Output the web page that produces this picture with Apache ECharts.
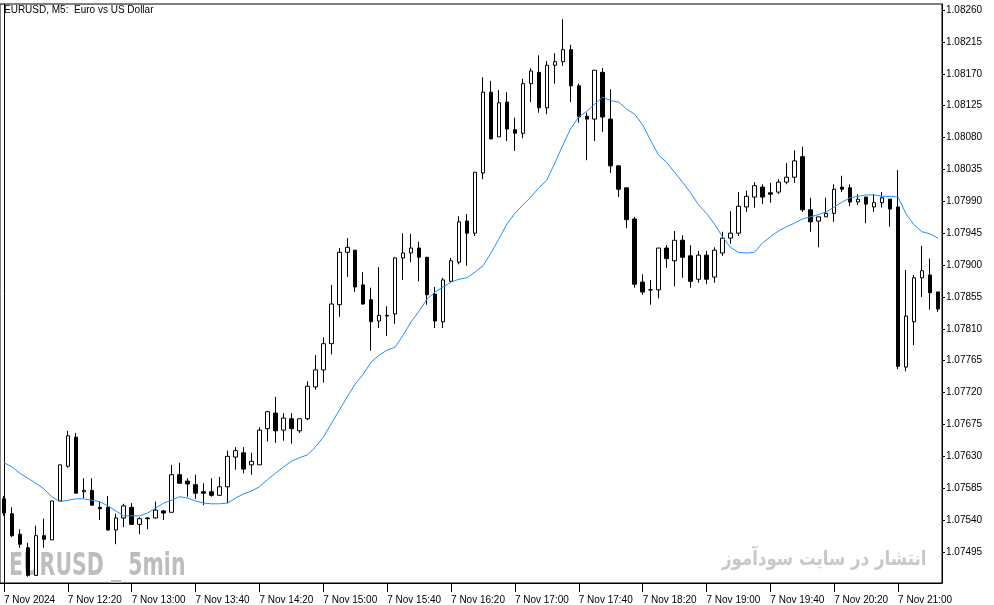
<!DOCTYPE html>
<html>
<head>
<meta charset="utf-8">
<title>EURUSD M5</title>
<script src="https://cdn.jsdelivr.net/npm/echarts@6.0.0/dist/echarts.min.js"></script>
<style>
  html, body { margin: 0; padding: 0; background: #fff; }
  #chart { width: 994px; height: 605px; }
</style>
</head>
<body>
<div id="chart"></div>
<script>
// 5-minute bars, first bar 7 Nov 11:40
const opens = [
  1.07570, 1.07549, 1.07520, 1.07501, 1.07462, 1.07518, 1.07512, 1.07567, 1.07616, 1.07657,
  1.07580, 1.07582, 1.07558, 1.07558, 1.07526, 1.07543, 1.07558, 1.07534, 1.07543, 1.07543,
  1.07553, 1.07551, 1.07604, 1.07595, 1.07590, 1.07580, 1.07580, 1.07575, 1.07587, 1.07629,
  1.07635, 1.07618, 1.07618, 1.07669, 1.07691, 1.07667, 1.07683, 1.07666, 1.07683, 1.07728,
  1.07752, 1.07789, 1.07844, 1.07918, 1.07921, 1.07872, 1.07851, 1.07821, 1.07829, 1.07831,
  1.07910, 1.07917, 1.07924, 1.07911, 1.07859, 1.07820, 1.07877, 1.07904, 1.07962, 1.07945,
  1.08030, 1.08144, 1.08081, 1.08130, 1.08091, 1.08086, 1.08156, 1.08172, 1.08122, 1.08182,
  1.08187, 1.08204, 1.08153, 1.08110, 1.08106, 1.08172, 1.08106, 1.08040, 1.08009, 1.07965,
  1.07876, 1.07865, 1.07865, 1.07924, 1.07906, 1.07935, 1.07913, 1.07880, 1.07914, 1.07883,
  1.07917, 1.07938, 1.07945, 1.07982, 1.07996, 1.08010, 1.08002, 1.08003, 1.08017, 1.08024,
  1.08053, 1.07978, 1.07962, 1.07968, 1.07973, 1.08010, 1.08009, 1.07989, 1.07996, 1.07982,
  1.07988, 1.07993, 1.07982, 1.07756, 1.07820, 1.07882, 1.07886, 1.07862
];
const closes = [
  1.07550, 1.07518, 1.07506, 1.07462, 1.07518, 1.07513, 1.07567, 1.07618, 1.07659, 1.07578,
  1.07582, 1.07561, 1.07556, 1.07526, 1.07543, 1.07560, 1.07534, 1.07542, 1.07542, 1.07554,
  1.07550, 1.07604, 1.07592, 1.07591, 1.07578, 1.07578, 1.07575, 1.07587, 1.07630, 1.07638,
  1.07612, 1.07623, 1.07667, 1.07693, 1.07666, 1.07684, 1.07669, 1.07683, 1.07729, 1.07752,
  1.07789, 1.07845, 1.07918, 1.07925, 1.07869, 1.07845, 1.07820, 1.07829, 1.07828, 1.07910,
  1.07917, 1.07924, 1.07911, 1.07858, 1.07821, 1.07879, 1.07906, 1.07961, 1.07945, 1.08031,
  1.08144, 1.08078, 1.08129, 1.08092, 1.08086, 1.08156, 1.08174, 1.08122, 1.08182, 1.08187,
  1.08204, 1.08153, 1.08109, 1.08106, 1.08175, 1.08109, 1.08040, 1.08007, 1.07964, 1.07873,
  1.07862, 1.07865, 1.07924, 1.07909, 1.07935, 1.07911, 1.07877, 1.07914, 1.07880, 1.07921,
  1.07938, 1.07945, 1.07983, 1.07997, 1.08012, 1.07996, 1.08000, 1.08017, 1.08024, 1.08047,
  1.07978, 1.07961, 1.07968, 1.07973, 1.08007, 1.08007, 1.07989, 1.07993, 1.07986, 1.07988,
  1.07995, 1.07979, 1.07757, 1.07828, 1.07882, 1.07892, 1.07861, 1.07838
];
const lows = [
  1.07546, 1.07516, 1.07501, 1.07460, 1.07461, 1.07501, 1.07512, 1.07567, 1.07614, 1.07578,
  1.07571, 1.07561, 1.07540, 1.07525, 1.07506, 1.07530, 1.07533, 1.07520, 1.07527, 1.07542,
  1.07540, 1.07551, 1.07592, 1.07573, 1.07570, 1.07561, 1.07573, 1.07574, 1.07564, 1.07611,
  1.07606, 1.07604, 1.07618, 1.07651, 1.07649, 1.07652, 1.07648, 1.07663, 1.07681, 1.07724,
  1.07734, 1.07774, 1.07827, 1.07883, 1.07862, 1.07844, 1.07779, 1.07811, 1.07800, 1.07817,
  1.07879, 1.07904, 1.07877, 1.07844, 1.07811, 1.07811, 1.07876, 1.07901, 1.07899, 1.07941,
  1.08021, 1.08078, 1.08081, 1.08075, 1.08061, 1.08079, 1.08130, 1.08115, 1.08113, 1.08156,
  1.08181, 1.08130, 1.08101, 1.08048, 1.08075, 1.08088, 1.08030, 1.07996, 1.07952, 1.07868,
  1.07858, 1.07844, 1.07853, 1.07896, 1.07870, 1.07882, 1.07868, 1.07875, 1.07873, 1.07875,
  1.07913, 1.07930, 1.07941, 1.07975, 1.07981, 1.07986, 1.07988, 1.08000, 1.08014, 1.08016,
  1.07975, 1.07947, 1.07925, 1.07968, 1.07961, 1.08003, 1.07983, 1.07985, 1.07959, 1.07975,
  1.07981, 1.07954, 1.07753, 1.07750, 1.07787, 1.07855, 1.07837, 1.07834
];
const highs = [
  1.07574, 1.07558, 1.07527, 1.07508, 1.07532, 1.07542, 1.07567, 1.07618, 1.07666, 1.07663,
  1.07599, 1.07599, 1.07566, 1.07574, 1.07549, 1.07563, 1.07564, 1.07544, 1.07544, 1.07566,
  1.07554, 1.07618, 1.07621, 1.07599, 1.07604, 1.07592, 1.07599, 1.07601, 1.07638, 1.07643,
  1.07643, 1.07635, 1.07671, 1.07694, 1.07714, 1.07691, 1.07691, 1.07683, 1.07736, 1.07773,
  1.07798, 1.07872, 1.07924, 1.07938, 1.07921, 1.07890, 1.07868, 1.07897, 1.07842, 1.07911,
  1.07945, 1.07944, 1.07933, 1.07911, 1.07869, 1.07882, 1.07910, 1.07969, 1.07972, 1.08031,
  1.08165, 1.08160, 1.08147, 1.08144, 1.08108, 1.08163, 1.08178, 1.08196, 1.08188, 1.08199,
  1.08247, 1.08211, 1.08156, 1.08115, 1.08175, 1.08178, 1.08148, 1.08041, 1.08009, 1.07968,
  1.07887, 1.07879, 1.07924, 1.07928, 1.07948, 1.07942, 1.07928, 1.07920, 1.07920, 1.07925,
  1.07947, 1.07976, 1.08003, 1.08005, 1.08017, 1.08014, 1.08016, 1.08021, 1.08044, 1.08062,
  1.08067, 1.07995, 1.07968, 1.07995, 1.08014, 1.08026, 1.08014, 1.08000, 1.07996, 1.08000,
  1.08003, 1.07993, 1.08034, 1.07893, 1.07886, 1.07927, 1.07909, 1.07862
];
// moving average line as drawn on the chart
const maValues = [
  1.07621, 1.07615, 1.07606, 1.07599, 1.07592, 1.07584, 1.07573, 1.07566, 1.07568, 1.07570,
  1.07570, 1.07568, 1.07566, 1.07560, 1.07553, 1.07546, 1.07546, 1.07546, 1.07550, 1.07557,
  1.07564, 1.07568, 1.07573, 1.07571, 1.07567, 1.07564, 1.07563, 1.07563, 1.07564, 1.07571,
  1.07577, 1.07581, 1.07587, 1.07597, 1.07606, 1.07615, 1.07623, 1.07628, 1.07632, 1.07643,
  1.07657, 1.07676, 1.07695, 1.07714, 1.07732, 1.07746, 1.07763, 1.07773, 1.07780, 1.07784,
  1.07801, 1.07820, 1.07835, 1.07852, 1.07862, 1.07869, 1.07876, 1.07880, 1.07882, 1.07890,
  1.07899, 1.07917, 1.07937, 1.07958, 1.07973, 1.07985, 1.07996, 1.08009, 1.08020, 1.08044,
  1.08069, 1.08093, 1.08109, 1.08117, 1.08127, 1.08137, 1.08132, 1.08130, 1.08120, 1.08113,
  1.08098, 1.08076, 1.08055, 1.08045, 1.08031, 1.08017, 1.08002, 1.07985, 1.07973, 1.07958,
  1.07940, 1.07925, 1.07918, 1.07917, 1.07918, 1.07931, 1.07940, 1.07948, 1.07954, 1.07959,
  1.07965, 1.07968, 1.07971, 1.07975, 1.07982, 1.07989, 1.07995, 1.07997, 1.07999, 1.07999,
  1.07997, 1.07997, 1.07996, 1.07972, 1.07957, 1.07947, 1.07944, 1.07938
];
const timeLabels = [
  '7 Nov 2024', '7 Nov 12:20', '7 Nov 13:00', '7 Nov 13:40', '7 Nov 14:20',
  '7 Nov 15:00', '7 Nov 15:40', '7 Nov 16:20', '7 Nov 17:00', '7 Nov 17:40',
  '7 Nov 18:20', '7 Nov 19:00', '7 Nov 19:40', '7 Nov 20:20', '7 Nov 21:00'
];
const priceTicks = [
  1.07495, 1.07540, 1.07585, 1.07630, 1.07675, 1.07720, 1.07765, 1.07810, 1.07855,
  1.07900, 1.07945, 1.07990, 1.08035, 1.08080, 1.08125, 1.08170, 1.08215, 1.08260
];

const pad = (n) => (n < 10 ? '0' + n : '' + n);
const categories = opens.map((_, i) => {
  const m = 11 * 60 + 40 + i * 5;
  return pad(Math.floor(m / 60)) + ':' + pad(m % 60);
});
const candles = opens.map((o, i) => [o, closes[i], lows[i], highs[i]]);

const font = '"Liberation Sans", Arial, sans-serif';
const chart = echarts.init(document.getElementById('chart'), null, { renderer: 'canvas' });

chart.setOption({
  animation: false,
  backgroundColor: '#fff',
  title: {
    text: 'EURUSD, M5:  Euro vs US Dollar',
    left: 4,
    top: 5,
    padding: 0,
    textStyle: { fontFamily: font, fontSize: 10, fontWeight: 'normal', color: '#000' }
  },
  grid: {
    left: -2, right: 52, top: 4, bottom: 22,
    show: true, borderColor: '#000', borderWidth: 1, backgroundColor: 'transparent'
  },
  xAxis: {
    type: 'category',
    data: categories,
    boundaryGap: true,
    axisLine: { show: true, lineStyle: { color: '#000', width: 1 } },
    axisTick: { show: true, interval: 7, alignWithLabel: true, length: 9, lineStyle: { color: '#000' } },
    axisLabel: {
      interval: 7,
      align: 'left',
      margin: 12,
      color: '#000',
      fontFamily: font,
      fontSize: 10,
      formatter: (v, i) => (i % 8 === 0 ? timeLabels[i / 8] : '')
    },
    splitLine: { show: false }
  },
  yAxis: [
    {
      type: 'value',
      position: 'right',
      min: 1.074512,
      max: 1.0826847,
      scale: true,
      axisLine: { show: true, lineStyle: { color: '#000', width: 1 } },
      axisTick: { show: true, length: 3, customValues: priceTicks, lineStyle: { color: '#000' } },
      axisLabel: {
        customValues: priceTicks,
        margin: 4,
        color: '#000',
        fontFamily: font,
        fontSize: 10,
        formatter: (v) => v.toFixed(5)
      },
      splitLine: { show: false }
    },
    {
      type: 'value',
      position: 'left',
      offset: -4,
      min: 1.074512,
      max: 1.0826847,
      axisLine: { show: true, lineStyle: { color: '#000', width: 1 } },
      axisTick: { show: false },
      axisLabel: { show: false },
      splitLine: { show: false }
    }
  ],
  graphic: [
    {
      type: 'text',
      x: 9, y: 551,
      scaleX: 0.64,
      silent: true,
      style: {
        text: 'EURUSD _ 5min',
        font: 'bold 32px "DejaVu Sans", sans-serif',
        fill: '#bdbdbd',
        textVerticalAlign: 'top'
      }
    },
    {
      type: 'text',
      x: 722, y: 550,
      scaleX: 0.83,
      silent: true,
      style: {
        text: 'انتشار در سایت سودآموز',
        font: 'bold 20px "DejaVu Sans", sans-serif',
        fill: '#c8c8c8',
        textVerticalAlign: 'top'
      }
    }
  ],
  series: [
    {
      name: 'EURUSD',
      type: 'candlestick',
      data: candles,
      barWidth: 4,
      silent: true,
      itemStyle: {
        color: '#ffffff',
        color0: '#000000',
        borderColor: '#000000',
        borderColor0: '#000000',
        borderColorDoji: '#000000',
        borderWidth: 1
      },
      emphasis: { disabled: true }
    },
    {
      name: 'MA',
      type: 'line',
      data: maValues,
      symbol: 'none',
      silent: true,
      z: 3,
      lineStyle: { color: '#1e90ff', width: 1 }
    }
  ]
});
window.onresize = () => chart.resize();
</script>
</body>
</html>
